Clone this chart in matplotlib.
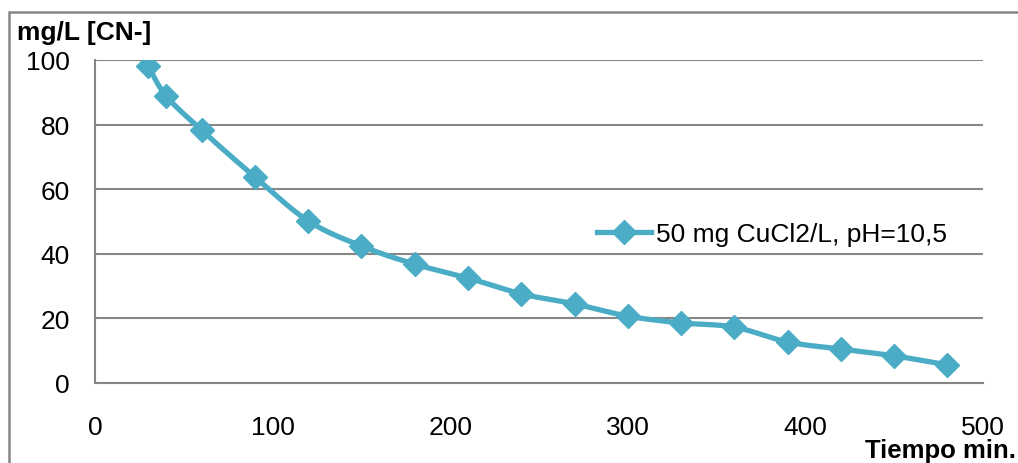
import numpy as np
import matplotlib
matplotlib.use("Agg")
import matplotlib.pyplot as plt
from matplotlib.lines import Line2D
from matplotlib.patches import Rectangle

# Cyanide concentration over time
tiempo = [30, 40, 60, 90, 120, 150, 180, 210, 240, 270, 300, 330, 360, 390, 420, 450, 480]
cianuro = [98.1, 88.9, 78.3, 63.8, 50.2, 42.4, 36.8, 32.5, 27.6, 24.5, 20.7, 18.6, 17.3, 12.7, 10.5, 8.4, 5.6]
serie = "50 mg CuCl2/L, pH=10,5"
y_ticks = [0, 20, 40, 60, 80, 100]
x_ticks = [0, 100, 200, 300, 400, 500]

color = "#4BACC6"
grid = "#868686"
plt.rcParams["font.family"] = ["Liberation Sans", "DejaVu Sans"]


def smooth(x, y, n=30):
    """Cardinal Bezier smoothing through every point."""
    x = np.asarray(x, float)
    y = np.asarray(y, float)
    px, py = [], []
    for i in range(len(x) - 1):
        x0, y0 = (x[i - 1], y[i - 1]) if i > 0 else (x[i], y[i])
        x3, y3 = (x[i + 2], y[i + 2]) if i + 2 < len(x) else (x[i + 1], y[i + 1])
        c1x = x[i] + (x[i + 1] - x0) / 6
        c1y = y[i] + (y[i + 1] - y0) / 6
        c2x = x[i + 1] - (x3 - x[i]) / 6
        c2y = y[i + 1] - (y3 - y[i]) / 6
        t = np.linspace(0, 1, n)
        a, b, c, d = (1 - t) ** 3, 3 * (1 - t) ** 2 * t, 3 * (1 - t) * t ** 2, t ** 3
        px.extend(a * x[i] + b * c1x + c * c2x + d * x[i + 1])
        py.extend(a * y[i] + b * c1y + c * c2y + d * y[i + 1])
    return np.array(px), np.array(py)


fig = plt.figure(figsize=(10.18, 4.64), dpi=100)
ax = fig.add_axes([95 / 1018, 80 / 464, 888 / 1018, 323 / 464])

sx, sy = smooth(tiempo, cianuro)
ax.plot(sx, sy, color=color, lw=3.8, solid_capstyle="round", zorder=3)
ax.plot(tiempo, cianuro, linestyle="none", marker="D", ms=12.5, color=color, zorder=4)

ax.set_xlim(0, 500)
ax.set_ylim(0, 100)
ax.set_xticks(x_ticks)
ax.set_yticks(y_ticks)
ax.tick_params(length=0, labelsize=19)
ax.tick_params(axis="x", pad=23)
ax.tick_params(axis="y", pad=18)
ax.yaxis.grid(True, color=grid, lw=1.5)
ax.set_axisbelow(True)
for s in ("top", "right"):
    ax.spines[s].set_visible(False)
for s in ("left", "bottom"):
    ax.spines[s].set_color(grid)
    ax.spines[s].set_linewidth(1.5)

handle = Line2D([], [], color=color, lw=3.8, marker="D", ms=12)
ax.legend([handle], [serie], loc="center left", bbox_to_anchor=(0.565, 0.46),
          frameon=False, fontsize=19, handlelength=2.05, handletextpad=0.2,
          borderaxespad=0, borderpad=0)

fig.text(17 / 1018, 1 - 40 / 464, "mg/L [CN-]", fontsize=19, fontweight="bold",
         ha="left", va="baseline")
fig.text(1016 / 1018, 1 - 458 / 464, "Tiempo min.", fontsize=18.5, fontweight="bold",
         ha="right", va="baseline")

# Outer chart frame
fig.patches.append(Rectangle((9 / 1018, -0.1), 1.2, 1 - 13 / 464 + 0.1,
                             transform=fig.transFigure, fill=False,
                             edgecolor=grid, lw=1.8))

fig.savefig("out.png", dpi=100)
